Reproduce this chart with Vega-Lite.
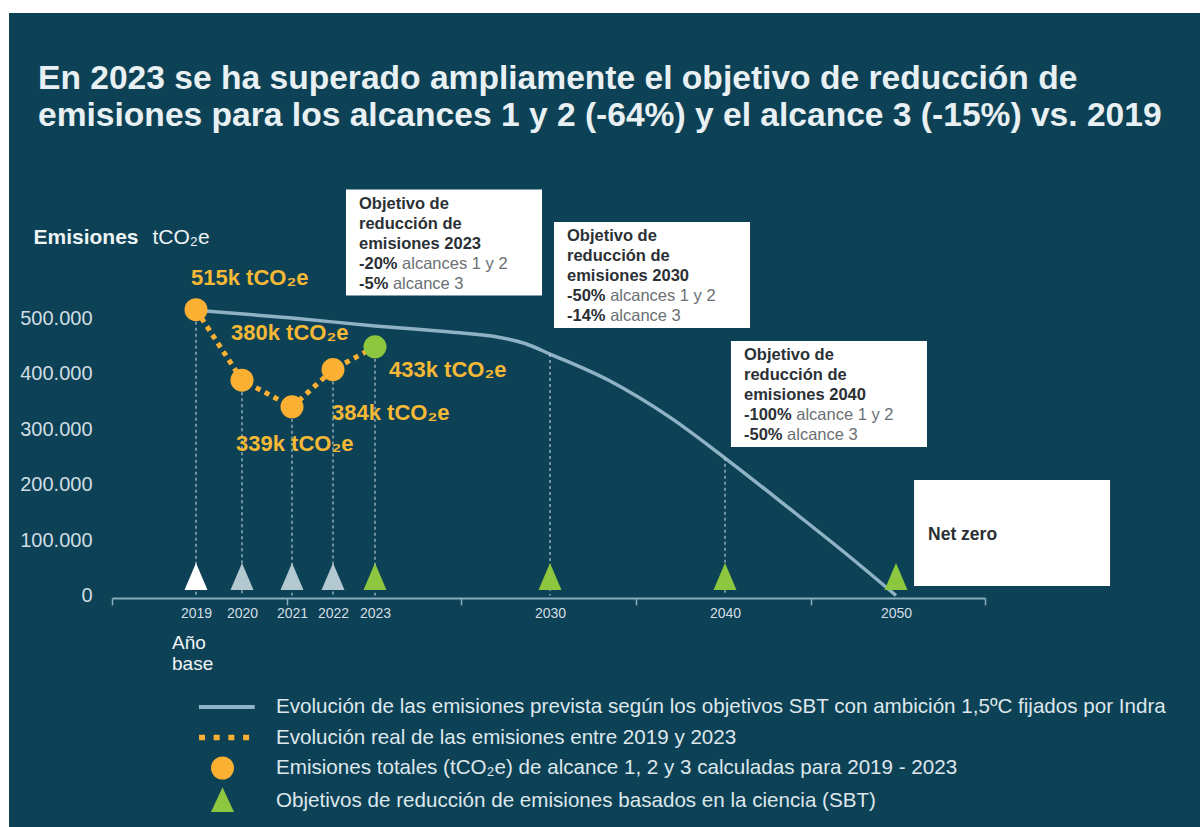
{
  "$schema": "https://vega.github.io/schema/vega-lite/v6.json",
  "width": 1191,
  "height": 814,
  "autosize": {"type": "none"},
  "padding": {"left": 9, "top": 13, "right": 0, "bottom": 0},
  "background": "#ffffff",
  "view": {"fill": "#0d4155", "stroke": null},
  "title": {
    "text": ["En 2023 se ha superado ampliamente el objetivo de reducción de", "emisiones para los alcances 1 y 2 (-64%) y el alcance 3 (-15%) vs. 2019"],
    "anchor": "start",
    "frame": "group",
    "font": "Liberation Sans",
    "fontWeight": "bold",
    "fontSize": 33.6,
    "lineHeight": 37,
    "color": "#e8f0f3",
    "baseline": "top",
    "offset": 0,
    "dx": 29,
    "dy": 120,
    "limit": 0
  },
  "config": {"axis": {"grid": false}, "text": {"font": "Liberation Sans"}},
  "datasets": {
    "real": [
      {"anio": 2019, "emisiones": 515000, "etiqueta": "515k tCO₂e"},
      {"anio": 2020, "emisiones": 388000, "etiqueta": "380k tCO₂e"},
      {"anio": 2021, "emisiones": 340000, "etiqueta": "339k tCO₂e"},
      {"anio": 2022, "emisiones": 407000, "etiqueta": "384k tCO₂e"},
      {"anio": 2023, "emisiones": 448000, "etiqueta": "433k tCO₂e"}
    ],
    "hitos": [
      {"anio": 2019, "fase": "base", "tope": 515000, "nota": ["Año", "base"]},
      {"anio": 2020, "fase": "real", "tope": 388000},
      {"anio": 2021, "fase": "real", "tope": 340000},
      {"anio": 2022, "fase": "real", "tope": 407000},
      {"anio": 2023, "fase": "objetivo", "tope": 448000},
      {"anio": 2030, "fase": "objetivo", "tope": 435000},
      {"anio": 2040, "fase": "objetivo", "tope": 248000},
      {"anio": 2050, "fase": "objetivo", "tope": 0}
    ],
    "trayectoria": [
      {"anio": 2019, "emisiones": 514000},
      {"anio": 2021, "emisiones": 500000},
      {"anio": 2023, "emisiones": 485600},
      {"anio": 2026, "emisiones": 474800},
      {"anio": 2028, "emisiones": 465000},
      {"anio": 2029, "emisiones": 454000},
      {"anio": 2030, "emisiones": 435100},
      {"anio": 2033.43, "emisiones": 386500},
      {"anio": 2036.86, "emisiones": 321000},
      {"anio": 2040, "emisiones": 247700},
      {"anio": 2043.8, "emisiones": 155900},
      {"anio": 2047.31, "emisiones": 69400},
      {"anio": 2050, "emisiones": 0}
    ],
    "objetivos": [
      {"meta": 2023, "anio": 2025.76, "emisiones": 636000, "negrita": ["Objetivo de", "reducción de", "emisiones 2023", "-20%", "-5%"], "resto4": "alcances 1 y 2", "resto5": "alcance 3"},
      {"meta": 2030, "anio": 2035.83, "emisiones": 577500, "negrita": ["Objetivo de", "reducción de", "emisiones 2030", "-50%", "-14%"], "resto4": "alcances 1 y 2", "resto5": "alcance 3"},
      {"meta": 2040, "anio": 2046.08, "emisiones": 363000, "negrita": ["Objetivo de", "reducción de", "emisiones 2040", "-100%", "-50%"], "resto4": "alcance 1 y 2", "resto5": "alcance 3"},
      {"meta": 2050, "anio": 2056.52, "emisiones": 112600, "cierre": "Net zero"}
    ],
    "leyenda": [
      {"serie": "Evolución de las emisiones prevista según los objetivos SBT con ambición 1,5ºC fijados por Indra"},
      {"serie": "Evolución real de las emisiones entre 2019 y 2023"},
      {"serie": "Emisiones totales (tCO₂e) de alcance 1, 2 y 3 calculadas para 2019 - 2023"},
      {"serie": "Objetivos de reducción de emisiones basados en la ciencia (SBT)"}
    ]
  },
  "layer": [
    {
      "data": {"name": "trayectoria"},
      "mark": {"type": "line", "color": "#8fb3c4", "strokeWidth": 3.5, "interpolate": "monotone"},
      "encoding": {
        "x": {"field": "anio", "type": "quantitative",
              "scale": {"type": "linear", "domain": [2017, 2019, 2020, 2021, 2022, 2023, 2030, 2040, 2050, 2055], "range": [103, 187, 233, 283, 324, 366, 541, 716, 887, 976], "nice": false, "zero": false},
              "axis": {"orient": "bottom", "offset": -229,
                       "values": [2017, 2019, 2020, 2020.9, 2021, 2022, 2023, 2026.44, 2030, 2034.91, 2040, 2045.03, 2050, 2055],
                       "labelExpr": "indexof([2019, 2020, 2021, 2022, 2023, 2030, 2040, 2050], datum.value) >= 0 ? format(datum.value, 'd') : ''",
                       "labelFont": "Liberation Sans", "labelFontSize": 14, "labelColor": "#d3dfe5", "labelPadding": 1,
                       "labelOverlap": false, "labelFlush": false,
                       "ticks": true, "tickSize": 7, "tickWidth": 1.5, "tickColor": "#86abbd",
                       "tickOpacity": {"condition": {"test": "indexof([2019, 2020, 2021, 2022, 2023, 2030, 2040, 2050], datum.value) >= 0", "value": 0}, "value": 1},
                       "domain": true, "domainColor": "#86abbd", "domainWidth": 2, "grid": false,
                       "title": "tCO₂e", "titleAngle": 0, "titleAlign": "left", "titleBaseline": "middle",
                       "titleX": 143, "titleY": -361, "titleFont": "Liberation Sans", "titleFontSize": 21,
                       "titleFontWeight": "normal", "titleColor": "#eef3f6"}},
        "y": {"field": "emisiones", "type": "quantitative",
              "scale": {"type": "linear", "domain": [0, 500000], "range": [582.5, 305], "nice": false, "zero": false},
              "axis": {"orient": "left", "offset": -83, "values": [0, 100000, 200000, 300000, 400000, 500000],
                       "labelExpr": "replace(format(datum.value, ','), ',', '.')",
                       "labelFont": "Liberation Sans", "labelFontSize": 20, "labelColor": "#cfdde4", "labelPadding": 0,
                       "ticks": false, "tickSize": 0, "domain": false, "grid": false,
                       "title": "Emisiones", "titleAngle": 0, "titleAlign": "left", "titleBaseline": "middle",
                       "titleX": -59, "titleY": 224, "titleFont": "Liberation Sans", "titleFontSize": 21,
                       "titleFontWeight": "bold", "titleColor": "#eef3f6"}}
      }
    },
    {
      "data": {"name": "hitos"},
      "mark": {"type": "rule", "color": "#b3c9d3", "strokeWidth": 1.2, "strokeDash": [3, 3]},
      "encoding": {
        "x": {"field": "anio", "type": "quantitative"},
        "y": {"field": "tope", "type": "quantitative"},
        "y2": {"datum": 0}
      }
    },
    {
      "data": {"name": "real"},
      "mark": {"type": "line", "color": "#fbb034", "strokeWidth": 5, "strokeDash": [5, 5]},
      "encoding": {
        "x": {"field": "anio", "type": "quantitative"},
        "y": {"field": "emisiones", "type": "quantitative"}
      }
    },
    {
      "data": {"name": "real"},
      "mark": {"type": "point", "shape": "circle", "filled": true, "size": 530, "opacity": 1, "strokeWidth": 0},
      "encoding": {
        "x": {"field": "anio", "type": "quantitative"},
        "y": {"field": "emisiones", "type": "quantitative"},
        "fill": {"condition": {"test": "datum.anio == 2023", "value": "#8dc63f"}, "value": "#fbb034"}
      }
    },
    {
      "data": {"name": "hitos"},
      "mark": {"type": "point", "shape": "M0,-2.83L1,-0.48L-1,-0.48Z", "filled": true, "size": 529, "opacity": 1, "strokeWidth": 0},
      "encoding": {
        "x": {"field": "anio", "type": "quantitative"},
        "y": {"datum": 0, "type": "quantitative"},
        "fill": {"condition": [{"test": "datum.fase == 'base'", "value": "#ffffff"}, {"test": "datum.fase == 'real'", "value": "#b4c8d2"}], "value": "#8dc63f"}
      }
    },
    {
      "data": {"name": "real"},
      "transform": [{"filter": "datum.anio == 2019"}],
      "mark": {"type": "text", "font": "Liberation Sans", "fontWeight": "bold", "fontSize": 22, "color": "#f6b935", "align": "left", "baseline": "middle", "dx": -5, "dy": -32},
      "encoding": {"x": {"field": "anio", "type": "quantitative"}, "y": {"field": "emisiones", "type": "quantitative"}, "text": {"field": "etiqueta", "type": "nominal"}}
    },
    {
      "data": {"name": "real"},
      "transform": [{"filter": "datum.anio == 2020"}],
      "mark": {"type": "text", "font": "Liberation Sans", "fontWeight": "bold", "fontSize": 22, "color": "#f6b935", "align": "left", "baseline": "middle", "dx": -11, "dy": -47},
      "encoding": {"x": {"field": "anio", "type": "quantitative"}, "y": {"field": "emisiones", "type": "quantitative"}, "text": {"field": "etiqueta", "type": "nominal"}}
    },
    {
      "data": {"name": "real"},
      "transform": [{"filter": "datum.anio == 2021"}],
      "mark": {"type": "text", "font": "Liberation Sans", "fontWeight": "bold", "fontSize": 22, "color": "#f6b935", "align": "left", "baseline": "middle", "dx": -56, "dy": 37},
      "encoding": {"x": {"field": "anio", "type": "quantitative"}, "y": {"field": "emisiones", "type": "quantitative"}, "text": {"field": "etiqueta", "type": "nominal"}}
    },
    {
      "data": {"name": "real"},
      "transform": [{"filter": "datum.anio == 2022"}],
      "mark": {"type": "text", "font": "Liberation Sans", "fontWeight": "bold", "fontSize": 22, "color": "#f6b935", "align": "left", "baseline": "middle", "dx": -1, "dy": 43},
      "encoding": {"x": {"field": "anio", "type": "quantitative"}, "y": {"field": "emisiones", "type": "quantitative"}, "text": {"field": "etiqueta", "type": "nominal"}}
    },
    {
      "data": {"name": "real"},
      "transform": [{"filter": "datum.anio == 2023"}],
      "mark": {"type": "text", "font": "Liberation Sans", "fontWeight": "bold", "fontSize": 22, "color": "#f6b935", "align": "left", "baseline": "middle", "dx": 14, "dy": 23},
      "encoding": {"x": {"field": "anio", "type": "quantitative"}, "y": {"field": "emisiones", "type": "quantitative"}, "text": {"field": "etiqueta", "type": "nominal"}}
    },
    {
      "data": {"name": "hitos"},
      "transform": [{"filter": "datum.anio == 2019"}],
      "mark": {"type": "text", "font": "Liberation Sans", "fontSize": 19, "lineHeight": 21, "color": "#f0f4f6", "align": "left", "baseline": "top", "dx": -24, "dy": 38},
      "encoding": {"x": {"field": "anio", "type": "quantitative"}, "y": {"datum": 0, "type": "quantitative"}, "text": {"field": "nota", "type": "nominal"}}
    },
    {
      "data": {"name": "objetivos"},
      "mark": {"type": "point", "shape": "M-1,-0.541H1V0.541H-1Z", "filled": true, "size": 38416, "fill": "#ffffff", "opacity": 1, "strokeWidth": 0},
      "encoding": {"x": {"field": "anio", "type": "quantitative"}, "y": {"field": "emisiones", "type": "quantitative"}}
    },
    {
      "data": {"name": "objetivos"},
      "transform": [{"filter": "datum.meta == 2023 || datum.meta == 2030"}],
      "mark": {"type": "text", "font": "Liberation Sans", "fontSize": 16.5, "color": "#6a6f73", "align": "left", "baseline": "middle", "dx": -41.9, "dy": 21},
      "encoding": {"x": {"field": "anio", "type": "quantitative"}, "y": {"field": "emisiones", "type": "quantitative"}, "text": {"field": "resto4", "type": "nominal"}}
    },
    {
      "data": {"name": "objetivos"},
      "transform": [{"filter": "datum.meta == 2040"}],
      "mark": {"type": "text", "font": "Liberation Sans", "fontSize": 16.5, "color": "#6a6f73", "align": "left", "baseline": "middle", "dx": -32.7, "dy": 21},
      "encoding": {"x": {"field": "anio", "type": "quantitative"}, "y": {"field": "emisiones", "type": "quantitative"}, "text": {"field": "resto4", "type": "nominal"}}
    },
    {
      "data": {"name": "objetivos"},
      "transform": [{"filter": "datum.meta == 2023"}],
      "mark": {"type": "text", "font": "Liberation Sans", "fontSize": 16.5, "color": "#6a6f73", "align": "left", "baseline": "middle", "dx": -51.1, "dy": 41},
      "encoding": {"x": {"field": "anio", "type": "quantitative"}, "y": {"field": "emisiones", "type": "quantitative"}, "text": {"field": "resto5", "type": "nominal"}}
    },
    {
      "data": {"name": "objetivos"},
      "transform": [{"filter": "datum.meta == 2030 || datum.meta == 2040"}],
      "mark": {"type": "text", "font": "Liberation Sans", "fontSize": 16.5, "color": "#6a6f73", "align": "left", "baseline": "middle", "dx": -41.9, "dy": 41},
      "encoding": {"x": {"field": "anio", "type": "quantitative"}, "y": {"field": "emisiones", "type": "quantitative"}, "text": {"field": "resto5", "type": "nominal"}}
    },
    {
      "data": {"name": "objetivos"},
      "transform": [{"filter": "datum.meta != 2050"}],
      "mark": {"type": "text", "font": "Liberation Sans", "fontWeight": "bold", "fontSize": 16.5, "lineHeight": 20, "color": "#2b3035", "align": "left", "baseline": "middle", "dx": -85, "dy": -39},
      "encoding": {"x": {"field": "anio", "type": "quantitative"}, "y": {"field": "emisiones", "type": "quantitative"}, "text": {"field": "negrita", "type": "nominal"}}
    },
    {
      "data": {"name": "objetivos"},
      "transform": [{"filter": "datum.meta == 2050"}],
      "mark": {"type": "text", "font": "Liberation Sans", "fontWeight": "bold", "fontSize": 17.5, "color": "#2b3035", "align": "left", "baseline": "middle", "dx": -84, "dy": 2},
      "encoding": {"x": {"field": "anio", "type": "quantitative"}, "y": {"field": "emisiones", "type": "quantitative"}, "text": {"field": "cierre", "type": "nominal"}}
    },
    {
      "data": {"name": "leyenda"},
      "transform": [{"filter": "datum.serie == null"}],
      "mark": {"type": "point", "filled": true},
      "encoding": {
        "x": {"field": "anio", "type": "quantitative"},
        "y": {"field": "emisiones", "type": "quantitative"},
        "color": {"field": "serie", "type": "nominal",
                  "scale": {"domain": ["Evolución de las emisiones prevista según los objetivos SBT con ambición 1,5ºC fijados por Indra", "Evolución real de las emisiones entre 2019 y 2023", "Emisiones totales (tCO₂e) de alcance 1, 2 y 3 calculadas para 2019 - 2023", "Objetivos de reducción de emisiones basados en la ciencia (SBT)"], "range": ["#8fb3c4", "#fbb034", "#fbb034", "#8dc63f"]},
                  "legend": {"orient": "none", "legendX": 202, "legendY": 682.5, "title": null, "direction": "vertical", "labelFont": "Liberation Sans", "labelFontSize": 20.6, "labelColor": "#dde7ec", "labelOffset": 42, "labelLimit": 1100, "symbolSize": 529, "symbolStrokeWidth": 0, "symbolOpacity": 1, "rowPadding": 7.5, "padding": 0}},
        "shape": {"field": "serie", "type": "nominal",
                  "scale": {"domain": ["Evolución de las emisiones prevista según los objetivos SBT con ambición 1,5ºC fijados por Indra", "Evolución real de las emisiones entre 2019 y 2023", "Emisiones totales (tCO₂e) de alcance 1, 2 y 3 calculadas para 2019 - 2023", "Objetivos de reducción de emisiones basados en la ciencia (SBT)"], "range": ["M-2.05,-0.18H2.8V0.18H-2.05Z", "M-2.04,-0.24H-1.52V0.24H-2.04Z M-0.77,-0.24H-0.25V0.24H-0.77Z M0.51,-0.24H1.03V0.24H0.51Z M1.79,-0.24H2.31V0.24H1.79Z", "circle", "M0,-1.15L1,1.0L-1,1.0Z"]},
                  "legend": {"orient": "none", "legendX": 202, "legendY": 682.5, "title": null, "direction": "vertical", "labelFont": "Liberation Sans", "labelFontSize": 20.6, "labelColor": "#dde7ec", "labelOffset": 42, "labelLimit": 1100, "symbolSize": 529, "symbolStrokeWidth": 0, "symbolOpacity": 1, "rowPadding": 7.5, "padding": 0}}
      }
    }
  ]
}
